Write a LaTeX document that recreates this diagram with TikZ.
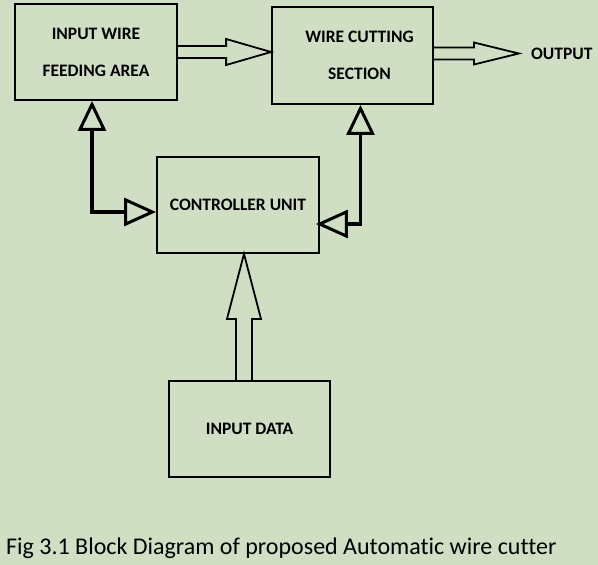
\documentclass[tikz,border=0pt]{standalone}
\usepackage{fontspec}
\setmainfont[Ligatures=NoCommon]{Carlito}
\usetikzlibrary{arrows.meta, calc, positioning}
\definecolor{bgcolor}{RGB}{208,223,196}
\tikzset{block/.style={draw, line width=1.8pt, minimum width=162pt, minimum height=96pt, inner sep=0pt,
		align=center, font=\bfseries\fontsize{17.5}{37}\selectfont},
	hollow/.style={draw, line width=1.8pt, line join=miter},
	ctrlline/.style={line width=3.2pt,
		{Triangle[open, length=30pt, width=28pt, line width=3pt]}-{Triangle[open, length=32pt, width=28pt, line width=3pt]}}}

\begin{document}
\begin{tikzpicture}[x=1pt, y=-1pt]
	
	\fill[bgcolor] (0,0) rectangle (598,565);
	\useasboundingbox (0,0) rectangle (598,565);
	
	\node[block] (feed) at (96,52) {INPUT WIRE\\FEEDING AREA};
	\node[block, minimum width=161pt, minimum height=97pt] (cut) at (352.5,55.5) {\hspace*{14pt}WIRE CUTTING\\\hspace*{14pt}SECTION};
	\node[block] (ctrl) at (238,205) {CONTROLLER UNIT};
	\node[block, minimum width=161pt] (data) at (249.5,429) {INPUT DATA};
	
	% block arrows
	\coordinate (t1) at (cut.west |- feed.east);
	\draw[hollow] ($(feed.east)+(0,-6)$) -- ($(t1)+(-45,-6)$) -- ++(0,-7) -- (t1) -- ($(t1)+(-45,13)$) -- ++(0,-7) -- ($(feed.east)+(0,6)$);
	
	\coordinate (out) at ($(cut.east)+(85,-2)$);
	\coordinate (o0) at (cut.east |- out);
	\draw[hollow] ($(o0)+(0,-6)$) -- ($(out)+(-45,-6)$) -- ++(0,-5) -- (out) -- ($(out)+(-45,11)$) -- ++(0,-5) -- ($(o0)+(0,6)$);
	\node[right=12pt of out, inner sep=0pt, font=\bfseries\fontsize{17.5}{20}\selectfont] (outlbl) {OUTPUT};
	
	\coordinate (t3) at ($(ctrl.south)+(6,0)$);
	\coordinate (d0) at (t3 |- data.north);
	\draw[hollow] ($(d0)+(-8,0)$) -- ($(t3)+(-8,65)$) -- ++(-9,0) -- (t3) -- ($(t3)+(17,65)$) -- ++(-9,0) -- ($(d0)+(8,0)$);
	
	% control lines
	\draw[ctrlline] ($(feed.south)+(-4,0)$) |- ($(ctrl.west)+(0,7)$);
	\draw[ctrlline] ($(cut.south)+(8,0)$) |- ($(ctrl.east)+(-4,19)$);
	
	\node[anchor=base west, inner sep=0pt, font=\fontsize{24}{28}\selectfont] (cap) at (6,554) {Fig 3.1 Block Diagram of proposed Automatic wire cutter};
	
\end{tikzpicture}
\end{document}
